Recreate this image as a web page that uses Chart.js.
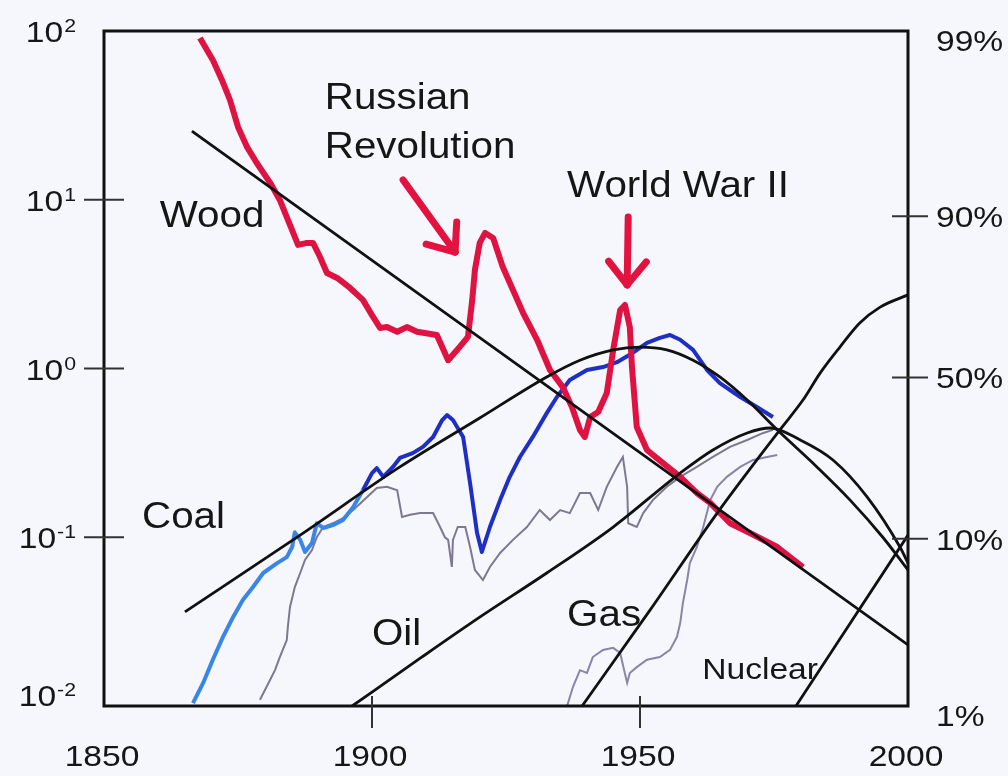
<!DOCTYPE html>
<html>
<head>
<meta charset="utf-8">
<script src="https://cdn.jsdelivr.net/npm/chart.js@4.4.1/dist/chart.umd.min.js"></script>
<style>
  html, body { margin: 0; padding: 0; background: #f6f6fd; }
</style>
</head>
<body>
<canvas id="chart" width="1008" height="776"></canvas>
<script>
// ---- values: [year, share on the left log axis] ----
const woodObserved = [
  [1867.9, 90.8], [1870.3, 67.3], [1872.0, 51.3], [1873.5, 39.0], [1875.0, 27.0],
  [1876.7, 20.5], [1878.5, 16.5], [1881.0, 12.6], [1882.8, 9.97], [1884.1, 7.9],
  [1885.3, 6.36], [1886.2, 5.40], [1887.9, 5.55], [1889.0, 5.55], [1890.3, 4.58],
  [1891.6, 3.68], [1893.5, 3.44], [1895.9, 3.0], [1898.3, 2.55], [1900.2, 2.02],
  [1901.5, 1.74], [1902.8, 1.76], [1904.7, 1.65], [1906.5, 1.76], [1908.4, 1.65],
  [1912.1, 1.58], [1914.2, 1.12], [1915.9, 1.29], [1917.9, 1.54], [1918.7, 2.55],
  [1919.2, 3.84], [1920.1, 5.55], [1921.1, 6.36], [1922.6, 5.93], [1924.4, 3.99],
  [1926.3, 2.92], [1928.2, 2.13], [1930.8, 1.48], [1933.2, 0.98], [1935.6, 0.776],
  [1937.3, 0.591], [1938.8, 0.432], [1939.7, 0.393], [1940.7, 0.516], [1942.2, 0.553],
  [1943.8, 0.716], [1945.0, 1.29], [1946.3, 2.22], [1947.2, 2.38], [1948.1, 1.76],
  [1948.5, 1.02], [1949.4, 0.45], [1951.3, 0.329], [1954.3, 0.275], [1957.5, 0.228],
  [1960.6, 0.183], [1963.1, 0.160], [1966.8, 0.121], [1970.5, 0.106], [1975.6, 0.0875],
  [1980.4, 0.0666]
];

const coalObserved = [
  [1866.6, 0.0104], [1868.5, 0.0137], [1870.3, 0.0188], [1872.2, 0.0257], [1874.1, 0.0337],
  [1875.9, 0.0425], [1877.8, 0.0507], [1879.7, 0.0614], [1882.3, 0.0703], [1884.1, 0.0763],
  [1885.1, 0.0875], [1885.6, 0.107], [1886.6, 0.0965], [1887.5, 0.0818], [1888.8, 0.0925],
  [1889.7, 0.121], [1890.9, 0.1135], [1892.7, 0.118], [1894.6, 0.1265], [1896.5, 0.151],
  [1898.3, 0.190], [1900.0, 0.240], [1900.9, 0.257], [1902.1, 0.228], [1903.9, 0.261],
  [1905.2, 0.295], [1907.6, 0.315], [1909.5, 0.343], [1911.4, 0.393], [1913.1, 0.495],
  [1914.0, 0.530], [1915.1, 0.495], [1917.0, 0.393], [1918.3, 0.209], [1919.6, 0.106],
  [1920.5, 0.0818], [1922.0, 0.115], [1923.9, 0.166], [1925.7, 0.228], [1927.6, 0.299],
  [1930.0, 0.393], [1932.6, 0.544], [1934.5, 0.678], [1936.9, 0.855], [1940.1, 0.98],
  [1943.1, 1.02], [1945.7, 1.09], [1948.7, 1.24], [1951.3, 1.42], [1953.7, 1.52],
  [1955.6, 1.58], [1957.5, 1.48], [1959.9, 1.29], [1962.5, 0.98], [1964.9, 0.82],
  [1968.7, 0.678], [1971.8, 0.592], [1974.8, 0.516]
];

const oilObserved = [
  [1879.1, 0.0109], [1881.0, 0.0143], [1881.9, 0.0163], [1882.8, 0.0195], [1884.1, 0.0246],
  [1884.3, 0.0294], [1884.7, 0.0386], [1885.6, 0.0507], [1886.6, 0.0614], [1887.5, 0.0733],
  [1888.8, 0.0839], [1889.7, 0.100], [1890.9, 0.115], [1892.7, 0.121], [1894.6, 0.130],
  [1896.5, 0.145], [1899.1, 0.173], [1900.9, 0.196], [1902.8, 0.199], [1904.7, 0.190],
  [1905.6, 0.132], [1907.1, 0.136], [1909.0, 0.139], [1911.4, 0.139], [1912.7, 0.115],
  [1913.6, 0.100], [1914.2, 0.0965], [1914.9, 0.0667], [1915.1, 0.0965], [1916.0, 0.115],
  [1917.4, 0.115], [1918.3, 0.0875], [1919.2, 0.064], [1920.7, 0.0558], [1922.0, 0.0667],
  [1923.9, 0.0807], [1926.3, 0.0965], [1928.9, 0.115], [1931.3, 0.145], [1933.2, 0.1265],
  [1935.1, 0.145], [1936.9, 0.139], [1938.8, 0.183], [1940.7, 0.183], [1942.2, 0.145],
  [1943.8, 0.199], [1945.7, 0.261], [1946.8, 0.299], [1947.6, 0.199], [1947.8, 0.121],
  [1949.4, 0.115], [1950.6, 0.139], [1952.4, 0.166], [1955.0, 0.199], [1957.5, 0.228],
  [1960.6, 0.261], [1963.6, 0.299], [1966.8, 0.343], [1970.0, 0.377], [1973.0, 0.415],
  [1974.8, 0.433]
];

const gasObserved = [
  [1936.4, 0.0100], [1937.5, 0.0130], [1938.8, 0.0163], [1940.1, 0.0157], [1941.2, 0.0195],
  [1943.1, 0.0215], [1945.0, 0.0221], [1946.3, 0.0206], [1947.6, 0.0137], [1948.1, 0.0157],
  [1949.4, 0.0170], [1951.3, 0.0188], [1953.7, 0.0195], [1955.6, 0.0215], [1956.9, 0.0257],
  [1957.5, 0.0310], [1958.0, 0.0407], [1958.8, 0.0558], [1959.3, 0.0703], [1960.6, 0.0875],
  [1961.8, 0.115], [1963.1, 0.166], [1964.4, 0.199], [1966.2, 0.228], [1968.7, 0.261],
  [1971.1, 0.287], [1973.7, 0.299], [1975.6, 0.307]
];

// logistic substitution model curves
const woodModel = [[1866.4, 25.5], [2000, 0.023]];
const coalModel = [
  [1865.1, 0.0361], [1886.6, 0.103], [1905.2, 0.261], [1920.1, 0.509], [1932.6, 0.891],
  [1938.8, 1.12], [1945.0, 1.29], [1950.0, 1.34], [1955.0, 1.29], [1959.9, 1.12],
  [1964.9, 0.891], [1970.0, 0.650], [1975.6, 0.433], [1983.0, 0.261], [1989.2, 0.166],
  [1995.3, 0.100], [2000, 0.064]
];
const oilModel = [
  [1896.3, 0.0100], [1909.0, 0.0192], [1920.1, 0.0336], [1932.6, 0.0614], [1945.0, 0.115],
  [1957.5, 0.240], [1963.6, 0.329], [1970.0, 0.415], [1974.3, 0.444], [1979.9, 0.377],
  [1986.0, 0.287], [1992.4, 0.173], [1998.5, 0.0875], [2000, 0.0703]
];
const gasModel = [
  [1939.2, 0.0100], [1951.9, 0.0371], [1964.4, 0.139], [1976.1, 0.433], [1980.4, 0.650],
  [1983.6, 0.939], [1987.3, 1.34], [1991.0, 1.86], [1994.8, 2.31], [2000, 2.73]
];
const nuclearModel = [[1979.1, 0.01], [2000, 0.103]];

// axes
const xTicks = [1850, 1900, 1950, 2000];
const yTicks = [100, 10, 1, 0.1, 0.01];
const yExponents = ['2', '1', '0', '-1', '-2'];
const rightOdds = [99, 9, 1, 1 / 9, 1 / 99];
const rightLabels = ['99%', '90%', '50%', '10%', '1%'];

// text placed at [year, value] (left edge, baseline)
const labels = [
  { text: 'Russian', at: [1891.2, 34.5], size: 36 },
  { text: 'Revolution', at: [1891.2, 17.7], size: 36 },
  { text: 'World War II', at: [1936.4, 10.4], size: 36 },
  { text: 'Wood', at: [1860.4, 6.9], size: 36 },
  { text: 'Coal', at: [1857.1, 0.1135], size: 36 },
  { text: 'Oil', at: [1900.0, 0.023], size: 36 },
  { text: 'Gas', at: [1936.4, 0.0298], size: 36 },
  { text: 'Nuclear', at: [1961.6, 0.01445], size: 30 }
];
const arrows = [
  { from: [1905.8, 13.1], to: [1915.5, 4.9] },
  { from: [1947.8, 7.9], to: [1947.6, 3.13] }
];

const FONT = '"Liberation Sans", Arial, sans-serif';
const STRETCH = 1.12;
const INK = '#161616';

const pts = arr => arr.map(([x, y]) => ({ x, y }));

function text(ctx, s, x, y, size, align) {
  ctx.save();
  ctx.font = `${size}px ${FONT}`;
  ctx.textAlign = align || 'left';
  ctx.textBaseline = 'alphabetic';
  ctx.fillStyle = INK;
  ctx.translate(x, y);
  ctx.scale(STRETCH, 1);
  ctx.fillText(s, 0, 0);
  ctx.restore();
}

function line(ctx, x1, y1, x2, y2) {
  ctx.beginPath();
  ctx.moveTo(x1, y1);
  ctx.lineTo(x2, y2);
  ctx.stroke();
}

const figurePlugin = {
  id: 'figure',
  beforeDraw(chart) {
    const { ctx, width, height } = chart;
    ctx.save();
    ctx.fillStyle = '#f6f6fd';
    ctx.fillRect(0, 0, width, height);
    ctx.restore();
  },
  afterDatasetsDraw(chart) {
    const { ctx, scales } = chart;
    ctx.save();
    ctx.strokeStyle = '#e3123f';
    ctx.lineWidth = 7;
    ctx.lineCap = 'round';
    arrows.forEach(a => {
      const x1 = scales.x.getPixelForValue(a.from[0]), y1 = scales.y.getPixelForValue(a.from[1]);
      const x2 = scales.x.getPixelForValue(a.to[0]), y2 = scales.y.getPixelForValue(a.to[1]);
      line(ctx, x1, y1, x2, y2);
      const back = Math.atan2(y1 - y2, x1 - x2);
      [-0.68, 0.68].forEach(d => {
        line(ctx, x2, y2, x2 + 30 * Math.cos(back + d), y2 + 30 * Math.sin(back + d));
      });
    });
    ctx.restore();
  },
  afterDraw(chart) {
    const { ctx, chartArea: a, scales } = chart;
    ctx.save();

    // frame
    ctx.strokeStyle = '#111';
    ctx.lineWidth = 3;
    ctx.strokeRect(a.left, a.top, a.right - a.left, a.bottom - a.top);

    // tick crosses
    ctx.lineWidth = 2;
    ctx.strokeStyle = '#333';
    xTicks.forEach(v => {
      const px = scales.x.getPixelForValue(v);
      if (v > 1850 && v < 2000) line(ctx, px, a.bottom - 10, px, a.bottom + 22);
      text(ctx, String(v), px - 2, a.bottom + 60, 30, 'center');
    });

    yTicks.forEach((v, i) => {
      const py = scales.y.getPixelForValue(v);
      if (i > 0 && i < yTicks.length - 1) line(ctx, a.left - 20, py, a.left + 20, py);
      const ly = Math.min(py, a.bottom - 11) + 11;
      const exp = yExponents[i];
      ctx.font = `19px ${FONT}`;
      const ew = ctx.measureText(exp).width * STRETCH;
      const right = a.left - 28;
      text(ctx, exp, right - ew, ly - 10, 19, 'left');
      text(ctx, '10', right - ew - 1, ly, 30, 'right');
    });

    rightOdds.forEach((v, i) => {
      const py = scales.y2.getPixelForValue(v);
      if (i > 0 && i < rightOdds.length - 1) line(ctx, a.right - 16, py, a.right + 20, py);
      text(ctx, rightLabels[i], a.right + 28, py + 11, 30, 'left');
    });

    labels.forEach(l => {
      text(ctx, l.text, scales.x.getPixelForValue(l.at[0]), scales.y.getPixelForValue(l.at[1]), l.size, 'left');
    });
    ctx.restore();
  }
};

const model = (data) => ({
  data: pts(data),
  yAxisID: 'y',
  borderColor: '#111',
  borderWidth: 2.8,
  cubicInterpolationMode: 'monotone',
  pointRadius: 0
});

new Chart(document.getElementById('chart'), {
  type: 'line',
  data: {
    datasets: [
      model(woodModel),
      model(coalModel),
      model(oilModel),
      model(gasModel),
      model(nuclearModel),
      { data: pts(woodObserved), yAxisID: 'y', borderColor: '#de1342', borderWidth: 6, pointRadius: 0, borderJoinStyle: 'round' },
      {
        data: pts(coalObserved), yAxisID: 'y', borderWidth: 4, pointRadius: 0, borderJoinStyle: 'round',
        borderColor: '#1f2fc4',
        segment: { borderColor: c => (c.p0.parsed.x < 1897 ? '#3a86e8' : '#1f2fc4') }
      },
      { data: pts(oilObserved), yAxisID: 'y', borderColor: '#7e7892', borderWidth: 2, pointRadius: 0 },
      { data: pts(gasObserved), yAxisID: 'y', borderColor: '#8a84a8', borderWidth: 2, pointRadius: 0 }
    ]
  },
  options: {
    responsive: false,
    animation: false,
    devicePixelRatio: 1,
    layout: { padding: { top: 31 } },
    plugins: { legend: { display: false }, tooltip: { enabled: false } },
    scales: {
      x: {
        type: 'linear', min: 1850, max: 2000,
        ticks: { display: false }, grid: { display: false }, border: { display: false },
        afterFit: s => { s.height = 70; }
      },
      y: {
        type: 'logarithmic', position: 'left', min: 0.01, max: 100,
        ticks: { display: false }, grid: { display: false }, border: { display: false },
        afterFit: s => { s.width = 104; }
      },
      y2: {
        type: 'logarithmic', position: 'right', min: 0.0114, max: 112,
        ticks: { display: false }, grid: { display: false }, border: { display: false },
        afterFit: s => { s.width = 100; }
      }
    }
  },
  plugins: [figurePlugin]
});
</script>
</body>
</html>
